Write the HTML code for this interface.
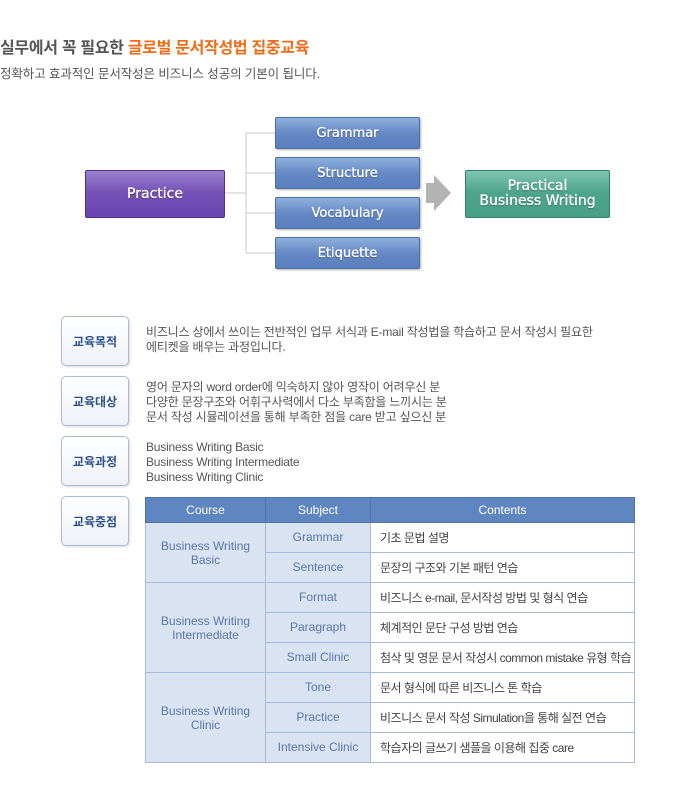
<!DOCTYPE html>
<html><head><meta charset="utf-8"><style>
*{margin:0;padding:0;box-sizing:border-box}
body{width:690px;height:805px;background:#fff;position:relative;font-family:"Liberation Sans","Noto Sans CJK KR",sans-serif;overflow:hidden}
.a{position:absolute}
.t1{left:0;top:34px;font-size:16px;font-weight:bold;color:#555;letter-spacing:-0.3px;white-space:nowrap}
.t1 span{color:#f26c16}
.t2{left:0;top:63px;font-size:12.5px;color:#555;letter-spacing:-0.1px;white-space:nowrap}
.box{position:absolute;color:#fff;display:flex;align-items:center;justify-content:center;text-align:center;border-radius:2px;text-shadow:0 1px 1px rgba(0,0,0,.4);font-family:"DejaVu Sans","Noto Sans CJK KR",sans-serif;-webkit-text-stroke:0.3px #fff}
.blue{width:145px;height:32px;left:275px;background:linear-gradient(#8fb0dd,#6688c4 50%,#5a7fbf);border:1px solid #4a6ea8;font-size:13px;box-shadow:1px 1px 2px rgba(0,0,0,.3)}
.lab{position:absolute;left:61px;width:68px;height:50px;border:1px solid #a8bcd8;border-radius:5px;background:linear-gradient(#fff,#eef2f7);box-shadow:1px 1px 2px rgba(0,0,0,.15);display:flex;align-items:center;justify-content:center;font-size:12px;font-weight:bold;color:#2b4f8c}
.txt{position:absolute;left:146px;font-size:12px;color:#555;line-height:15px;letter-spacing:-0.2px;white-space:nowrap}
table{position:absolute;left:145px;top:497px;width:490px;border-collapse:collapse;font-size:12px;table-layout:fixed}
td,th{border:1px solid #a9bbd9;height:30px;text-align:center;white-space:nowrap;overflow:hidden}
th{background:#5f86c1;color:#fff;font-weight:normal;height:25px;border-color:#4d72ad}
td.c{background:#d9e3f2;color:#5a76a8;line-height:14px}
td.s{background:#d9e3f2;color:#5a76a8;vertical-align:top;padding-top:7px}
td.x{text-align:left;padding-left:9px;color:#444;letter-spacing:-0.5px}
</style></head><body>
<div class="a t1">실무에서 꼭 필요한 <span>글로벌 문서작성법 집중교육</span></div>
<div class="a t2">정확하고 효과적인 문서작성은 비즈니스 성공의 기본이 됩니다.</div>

<svg class="a" style="left:0;top:0" width="690" height="300">
<path d="M225 193H246M246 133V253M246 133H275M246 173H275M246 213H275M246 253H275" stroke="#c8c8c8" fill="none"/>
<polygon points="426,183 434,183 434,175 451,193 434,211 434,203 426,203" fill="#b3b3b3"/>
</svg>
<div class="box" style="left:85px;top:170px;width:140px;height:48px;background:linear-gradient(#9b82cf,#7652b6 45%,#6a44b0);border:1px solid #4f2f8f;font-size:14px">Practice</div>
<div class="box blue" style="top:117px">Grammar</div>
<div class="box blue" style="top:157px">Structure</div>
<div class="box blue" style="top:197px">Vocabulary</div>
<div class="box blue" style="top:237px">Etiquette</div>
<div class="box" style="left:465px;top:170px;width:145px;height:48px;background:linear-gradient(#7fc6b0,#4fa58c 45%,#46a085);border:1px solid #337f69;font-size:14px;line-height:15px">Practical<br>Business Writing</div>

<div class="lab" style="top:316px">교육목적</div>
<div class="lab" style="top:376px">교육대상</div>
<div class="lab" style="top:436px">교육과정</div>
<div class="lab" style="top:496px">교육중점</div>
<div class="txt" style="top:325px">비즈니스 상에서 쓰이는 전반적인 업무 서식과 E-mail 작성법을 학습하고 문서 작성시 필요한<br>에티켓을 배우는 과정입니다.</div>
<div class="txt" style="top:380px">영어 문자의 word order에 익숙하지 않아 영작이 어려우신 분<br>다양한 문장구조와 어휘구사력에서 다소 부족함을 느끼시는 분<br>문서 작성 시뮬레이션을 통해 부족한 점을 care 받고 싶으신 분</div>
<div class="txt" style="top:440px">Business Writing Basic<br>Business Writing Intermediate<br>Business Writing Clinic</div>

<table>
<colgroup><col style="width:120px"><col style="width:105px"><col></colgroup>
<tr><th>Course</th><th>Subject</th><th>Contents</th></tr>
<tr><td class="c" rowspan="2">Business Writing<br>Basic</td><td class="s">Grammar</td><td class="x">기초 문법 설명</td></tr>
<tr><td class="s">Sentence</td><td class="x">문장의 구조와 기본 패턴 연습</td></tr>
<tr><td class="c" rowspan="3">Business Writing<br>Intermediate</td><td class="s">Format</td><td class="x">비즈니스 e-mail, 문서작성 방법 및 형식 연습</td></tr>
<tr><td class="s">Paragraph</td><td class="x">체계적인 문단 구성 방법 연습</td></tr>
<tr><td class="s">Small Clinic</td><td class="x">첨삭 및 영문 문서 작성시 common mistake 유형 학습</td></tr>
<tr><td class="c" rowspan="3">Business Writing<br>Clinic</td><td class="s">Tone</td><td class="x">문서 형식에 따른 비즈니스 톤 학습</td></tr>
<tr><td class="s">Practice</td><td class="x">비즈니스 문서 작성 Simulation을 통해 실전 연습</td></tr>
<tr><td class="s">Intensive Clinic</td><td class="x">학습자의 글쓰기 샘플을 이용해 집중 care</td></tr>
</table>
</body></html>
